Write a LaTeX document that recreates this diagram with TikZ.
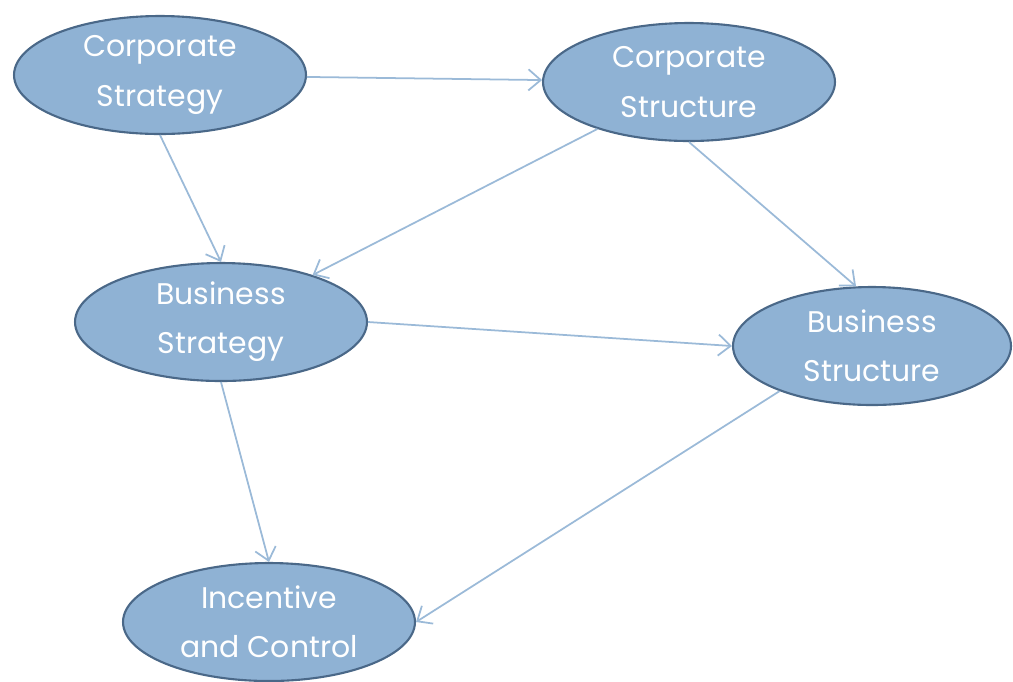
\documentclass[tikz,border=0pt]{standalone}
\usepackage{fontspec}
\setmainfont{Poppins}
\usepackage{tikz}
\usetikzlibrary{arrows.meta,shapes.geometric}
\definecolor{blobfill}{RGB}{143,178,212}
\definecolor{blobline}{RGB}{74,104,136}
\definecolor{linkcol}{RGB}{155,186,216}

\begin{document}
\begin{tikzpicture}[x=0.02cm,y=-0.02cm,
    blob/.style={ellipse, draw=blobline, line width=1.2pt, fill=blobfill, text=white,
        minimum width=5.84cm, minimum height=2.36cm, inner sep=0pt, align=center,
        font=\fontsize{17}{28}\selectfont},
    link/.style={draw=linkcol, line width=1pt, -{Straight Barb[length=7pt,width=12pt]}}]
     \useasboundingbox (0,0) rectangle (1013,681);

     \node[blob] (cs) at (160,75) {Corporate\\Strategy};
     \node[blob] (cst) at (689,82) {Corporate\\Structure};
     \node[blob] (bs) at (221,322) {Business\\Strategy};
     \node[blob, minimum width=5.56cm] (bst) at (872,346) {Business\\Structure};
     \node[blob] (ic) at (269,622) {Incentive\\and Control};

     \draw[link] (cs) -- (cst);
     \draw[link] (cs.south) -- (bs.north);
     \draw[link] (cst) -- (bs);
     \draw[link] (cst.south) -- (bst.105);
     \draw[link] (bs.east) -- (bst.west);
     \draw[link] (bs.south) -- (ic.north);
     \draw[link] (bst.206) -- (ic.east);
    \end{tikzpicture}
\end{document}
